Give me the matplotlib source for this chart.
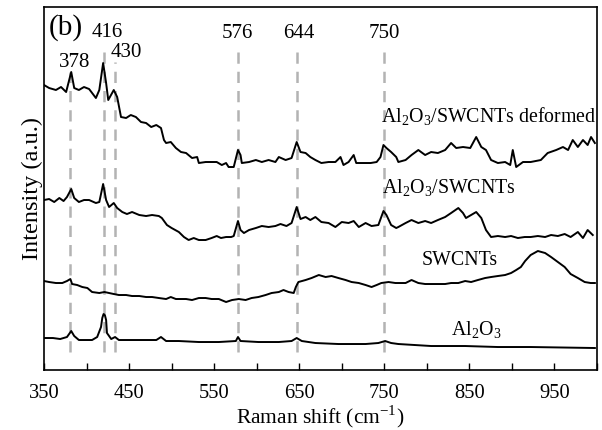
import numpy as np
import matplotlib
matplotlib.use('Agg')
import matplotlib.pyplot as plt

plt.rcParams['font.family'] = ['Liberation Serif', 'DejaVu Serif']
plt.rcParams['mathtext.fontset'] = 'custom'
plt.rcParams['mathtext.rm'] = 'Liberation Serif'

# Al2O3/SWCNTs deformed
shift_def = [350, 356, 364, 370, 376, 382, 385.5, 391, 397, 403, 411, 415, 419.5, 423, 425.5,
             432, 436, 440.5, 446.5, 452, 458, 464, 470, 476, 482, 487.5, 491, 493.5, 499,
             505, 511, 517, 524, 530, 532, 540, 547, 553, 559, 564, 567, 573, 578, 581,
             582.5, 591, 599, 606, 614, 622, 626, 634, 641, 647, 651.5, 657.5, 663, 669,
             676, 684.5, 692.5, 698.5, 702, 708, 714, 717, 725.5, 734, 741, 745.5, 749,
             752.5, 758, 764, 766.5, 775, 782, 790, 798, 805, 813, 821.5, 828.5, 834.5,
             842.5, 851, 858, 864, 869.5, 875.5, 883.5, 892, 898, 901, 905, 913, 922, 934,
             942, 952, 960, 966, 971.5, 977.5, 983.5, 989, 993, 997.5]
int_def = [285, 282, 280, 283, 278, 298, 282, 280, 283, 281, 272, 280, 307, 287, 270,
           280, 273, 253, 252, 255, 253, 248, 247, 243, 245, 242, 230, 227, 228,
           222, 218, 217, 212, 213, 207, 208, 208, 208, 205, 207, 203, 203, 220, 215,
           207, 208, 210, 208, 210, 208, 213, 210, 212, 228, 218, 217, 213, 210,
           207, 208, 208, 213, 205, 208, 215, 207, 207, 207, 208, 213, 225,
           222, 218, 213, 208, 210, 215, 220, 215, 218, 217, 220, 227, 222,
           223, 222, 233, 223, 220, 210, 207, 208, 205, 220, 203, 208, 208, 210,
           217, 220, 223, 220, 230, 223, 230, 225, 233, 227]

# Al2O3/SWCNTs
shift_cnt = [350, 356, 362, 368, 373, 377, 382, 385.5, 391, 397, 403, 411, 415, 419.5, 423,
             426.5, 432, 436, 442, 447.5, 453.5, 462, 470, 477, 485, 488.5, 494.5, 500,
             508.5, 514.5, 520, 526, 532, 540, 547, 553, 558, 564, 570, 573, 578, 581,
             585, 591, 599, 606, 614, 622, 628, 635, 641, 647, 651.5, 657.5, 663, 669,
             676, 684.5, 692.5, 700, 708, 714, 720, 728, 735, 743, 749, 752.5, 758, 764,
             766.5, 775, 782, 790, 798, 805, 813, 821.5, 828.5, 837, 842.5, 846, 852,
             858, 864, 869.5, 875.5, 883.5, 892, 899, 907, 915, 922, 930.5, 939, 946,
             954, 962, 969, 977.5, 983.5, 989, 995]
int_cnt = [170, 171, 168, 172, 169, 173, 181, 172, 168, 170, 170, 167, 168, 186, 170,
           163, 167, 162, 158, 156, 158, 155, 154, 155, 154, 152, 145, 142,
           138, 133, 130, 132, 130, 130, 132, 134, 132, 133, 133, 134, 149, 140,
           137, 140, 142, 144, 143, 144, 146, 144, 147, 163, 151, 153, 150, 153,
           148, 147, 143, 148, 147, 149, 143, 147, 144, 145, 159, 155, 145, 142,
           143, 147, 150, 147, 149, 147, 150, 153, 157, 162, 157, 152, 155,
           158, 152, 140, 133, 134, 133, 134, 132, 133, 133, 134, 133, 135,
           134, 136, 133, 138, 132, 140, 135]

# SWCNTs
shift_swc = [350, 356, 364, 371.5, 377, 381, 383, 389, 395, 401, 406.5, 415, 421, 426.5,
             432, 438, 446.5, 453.5, 462, 470, 477, 485, 493.5, 499, 505, 517, 524, 532,
             540, 547, 555.5, 564, 571, 579, 587, 594, 602, 610.5, 617.5, 626, 631.5,
             637.5, 643.5, 646, 649, 657.5, 664.5, 673, 681, 688, 696, 704.5, 711.5, 720,
             728, 735, 741, 746.5, 755, 763, 766.5, 775, 782, 790, 798, 805, 813, 821.5,
             828.5, 837, 845, 852, 860, 868.5, 875.5, 883.5, 892, 899, 905, 910.5, 915.5,
             922, 930.5, 939, 946, 954, 962, 969, 977.5, 985.5, 992.5, 997.5]
int_swc = [89, 88, 87, 87, 89, 91, 86, 85, 83, 82, 78, 77, 78, 77,
           76, 75, 75, 74, 74, 73, 73, 72, 71, 73, 71, 71, 70, 72,
           72, 71, 71, 68, 70, 71, 70, 72, 73, 75, 77, 78, 80,
           78, 77, 83, 88, 90, 92, 95, 93, 94, 92, 90, 88, 87,
           85, 83, 85, 87, 88, 87, 87, 87, 90, 87, 86, 86, 86, 86,
           87, 87, 89, 88, 90, 92, 93, 94, 95, 97, 100, 103, 109,
           115, 119, 117, 113, 108, 103, 96, 92, 88, 87, 87]

# Al2O3
shift_alo = [350, 360.5, 369, 377, 382, 385.5, 391, 399.5, 406.5, 412.5, 417, 418.5, 420,
             421.5, 423, 424, 429, 433.5, 438, 453.5, 470, 482, 487.5, 493.5, 508.5, 532,
             555.5, 575.5, 578, 581, 602, 626, 641, 647, 653, 669, 696, 728, 743, 751,
             758, 766.5, 805, 845, 883.5, 922, 997.5]
int_alo = [32, 32, 31, 33, 39, 34, 30, 30, 30, 33, 43, 52, 56,
           55, 50, 37, 31, 33, 30, 30, 30, 30, 33, 29, 29, 28,
           28, 29, 33, 29, 28, 28, 29, 32, 29, 27, 26, 26, 27, 29,
           27, 26, 24, 24, 23, 23, 22]

# peak marks
peak_pos = [381, 420, 433, 578, 647, 750]
peak_top = [298, 323, 308, 323, 323, 323]
peak_labels = ['378', '416', '430', '576', '644', '750']

fig = plt.figure(figsize=(6.02, 4.30), dpi=100)
ax = fig.add_axes([0.0731, 0.1395, 0.9186, 0.8442])

for x, top in zip(peak_pos, peak_top):
    ax.plot([x, x], [18, top], color='#b3b3b3', lw=1.8, dashes=(4.5, 3.2), zorder=1)

for s, i in [(shift_def, int_def), (shift_cnt, int_cnt), (shift_swc, int_swc), (shift_alo, int_alo)]:
    ax.plot(s, i, color='black', lw=1.4, zorder=2)

fs = 14.3
pfs = 15
ax.text(385.5, 308, peak_labels[0], ha='center', va='center', fontsize=pfs)
ax.text(424, 338, peak_labels[1], ha='center', va='center', fontsize=pfs)
ax.text(446.5, 318, peak_labels[2], ha='center', va='center', fontsize=pfs)
ax.text(577, 337, peak_labels[3], ha='center', va='center', fontsize=pfs)
ax.text(649.5, 337, peak_labels[4], ha='center', va='center', fontsize=pfs)
ax.text(750.5, 337, peak_labels[5], ha='center', va='center', fontsize=pfs)

ax.text(356, 342, '(b)', ha='left', va='center', fontsize=21)

sub = r'Al$_\mathregular{2}$O$_\mathregular{3}$'
ax.text(999, 253, sub + '/SWCNTs deformed', ha='right', va='center', fontsize=fs)
ax.text(747, 182, sub + '/SWCNTs', ha='left', va='center', fontsize=fs)
ax.text(794, 110, 'SWCNTs', ha='left', va='center', fontsize=fs)
ax.text(828, 40, sub, ha='left', va='center', fontsize=fs)

ax.set_xlim(350, 1000)
ax.set_ylim(0, 363)
ax.set_xticks(np.arange(350, 1000, 100))
ax.set_xticks(np.arange(400, 1001, 100), minor=True)
ax.tick_params(axis='x', which='both', direction='in', length=5, width=1, labelsize=14.8, pad=10)
ax.set_yticks([])
for sp in ax.spines.values():
    sp.set_linewidth(1.2)

ax.set_xlabel(r'Raman shift (cm$^\mathregular{-1}$)', fontsize=15.5, labelpad=0)
ax.set_ylabel('Intensity (a.u.)', fontsize=17.5, labelpad=1)

plt.savefig('out.png', dpi=100)
